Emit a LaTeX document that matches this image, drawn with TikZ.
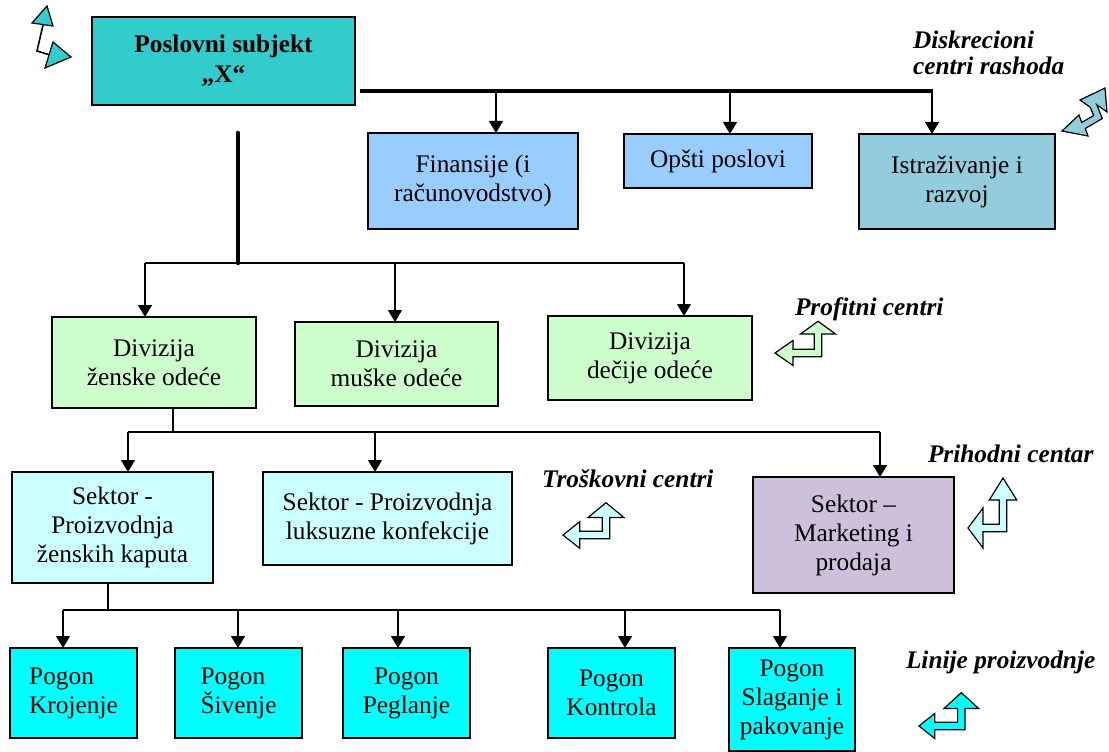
\documentclass[tikz,border=0pt]{standalone}
\usepackage{fontspec}
\setmainfont{Liberation Serif}
\usetikzlibrary{arrows.meta}

\definecolor{cTop}{HTML}{33CCCC}
\definecolor{cFin}{HTML}{99CCFF}
\definecolor{cIst}{HTML}{93CDDD}
\definecolor{cDiv}{HTML}{CCFFCC}
\definecolor{cSek}{HTML}{CCFFFF}
\definecolor{cMkt}{HTML}{CCC0DA}
\definecolor{cPog}{HTML}{00FFFF}

\tikzset{
  box/.style={draw=black, line width=1.4pt, inner sep=0pt, outer sep=0pt,
    align=center, font=\fontsize{19pt}{21.75pt}\selectfont},
  boldbox/.style={box, font=\fontsize{19pt}{22.5pt}\selectfont\bfseries},
  link/.style={line width=1.1pt},
  arr/.style={link, -{Triangle[length=9pt,width=10.5pt]}},
  bus/.style={line width=2.8pt},
  tag/.style={font=\fontsize{19pt}{19.5pt}\selectfont\bfseries\itshape,
    inner sep=0pt, outer sep=0pt, align=left},
  glyph/.style={draw=black, line width=0.9pt, line join=miter},
}

% box given by its corners (x1,y1) (x2,y2) in pixel units
\newcommand\orgbox[7]{%
  \node[#6, minimum width={(#4-#2)*0.75pt}, minimum height={(#5-#3)*0.75pt}]
    (#1) at ({(#2+#4)/2},{(#3+#5)/2}) {#7};}

% left-up double arrow: tip, corner offset, shaft length, left head length/half width,
% upper head length/half width, shaft half thickness, fill
\newcommand\bentarrow[9]{%
  \draw[glyph, fill=#9, shift={(#1)}] (0,0) -- (#4,-#5) -- (#4,-#8)
    -- ({#2-#8},-#8) -- ({#2-#8},-#3) -- ({#2-#7},-#3) -- (#2,{-#3-#6})
    -- ({#2+#7},-#3) -- ({#2+#8},-#3) -- ({#2+#8},#8) -- (#4,#8) -- (#4,#5) -- cycle;}

\begin{document}
\begin{tikzpicture}[x=0.75pt,y=-0.75pt]
\useasboundingbox (0,0) rectangle (1109,752);

% ---- boxes
\orgbox{top}{92}{17}{355}{105}{boldbox, fill=cTop}{Poslovni subjekt\\„X“}
\orgbox{fin}{368}{133}{578}{229}{box, fill=cFin}{Finansije (i\\računovodstvo)}
\orgbox{ops}{624}{134}{812}{188}{box, fill=cFin}{Opšti poslovi}
\orgbox{ist}{859}{134}{1055}{229}{box, fill=cIst}{Istraživanje i\\razvoj}

\orgbox{zen}{52}{317}{256}{408}{box, fill=cDiv}{Divizija\\ženske odeće}
\orgbox{mus}{295}{322}{498}{406}{box, fill=cDiv}{Divizija\\muške odeće}
\orgbox{dec}{548}{316}{752}{400}{box, fill=cDiv}{Divizija\\dečije odeće}

\orgbox{s1}{12}{472}{213}{583}{box, fill=cSek}{Sektor -\\Proizvodnja\\ženskih kaputa}
\orgbox{s2}{263}{472}{512}{565}{box, fill=cSek}{Sektor - Proizvodnja\\luksuzne konfekcije}
\orgbox{s3}{753}{477}{954}{593}{box, fill=cMkt}{Sektor –\\Marketing i\\prodaja}

\orgbox{p1}{10}{648}{137}{738}{box, fill=cPog, align=left}{Pogon\\Krojenje}
\orgbox{p2}{175}{648}{302}{738}{box, fill=cPog, align=left}{Pogon\\Šivenje}
\orgbox{p3}{343}{648}{470}{738}{box, fill=cPog}{Pogon\\Peglanje}
\orgbox{p4}{548}{648}{675}{738}{box, fill=cPog}{Pogon\\Kontrola}
\orgbox{p5}{729}{648}{855}{751}{box, fill=cPog}{Pogon\\Slaganje i\\pakovanje}

% ---- staff services
\coordinate (b0) at (360,91);
\coordinate (t1) at (496,91);
\coordinate (t2) at (730,91);
\coordinate (t3) at (932,91);
\draw[bus] (b0) -- ([xshift=1]t3);
\draw[arr] (t1) -- (t1 |- fin.north);
\draw[arr] (t2) -- (t2 |- ops.north);
\draw[arr] (t3) -- (t3 |- ist.north);

% ---- divisions
\coordinate (v0) at (238,133);
\coordinate (v1) at (238,263);
\coordinate (h1) at (145,263);
\coordinate (h2) at (395,263);
\coordinate (h3) at (684,263);
\draw[bus, line width=3.4pt, line cap=round] (v0) -- (v1);
\draw[link] (h1) -- (h3);
\draw[arr] (h1) -- (h1 |- zen.north);
\draw[arr] (h2) -- (h2 |- mus.north);
\draw[arr] (h3) -- (h3 |- dec.north);

% ---- sectors
\coordinate (j0) at (173,432);
\coordinate (j1) at (128,432);
\coordinate (j2) at (375,432);
\coordinate (j3) at (880,432);
\draw[link] (j0 |- zen.south) -- (j0);
\draw[link] (j1) -- (j3);
\draw[arr] (j1) -- (j1 |- s1.north);
\draw[arr] (j2) -- (j2 |- s2.north);
\draw[arr] (j3) -- (j3 |- s3.north);

% ---- plants
\coordinate (k0) at (108,610);
\coordinate (k1) at (63,610);
\coordinate (k2) at (238,610);
\coordinate (k3) at (398,610);
\coordinate (k4) at (625,610);
\coordinate (k5) at (780,610);
\draw[link] (k0 |- s1.south) -- (k0);
\draw[link] (k1) -- (k5);
\draw[arr] (k1) -- (k1 |- p1.north);
\draw[arr] (k2) -- (k2 |- p2.north);
\draw[arr] (k3) -- (k3 |- p3.north);
\draw[arr] (k4) -- (k4 |- p4.north);
\draw[arr] (k5) -- (k5 |- p5.north);

% ---- responsibility centre labels
\node[tag, anchor=north west] (lDis) at (913,31) {Diskrecioni\\centri rashoda};
\node[tag, anchor=base west] (lPro) at (795,315) {Profitni centri};
\node[tag, anchor=base west] (lTro) at (542,487) {Troškovni centri};
\node[tag, anchor=base west] (lPri) at (928,462) {Prihodni centar};
\node[tag, anchor=base west] (lLin) at (906,668) {Linije proizvodnje};

% ---- pointer glyphs
\bentarrow{775,353}{43}{19}{18}{12.5}{12.7}{17.5}{3.7}{cDiv}
\bentarrow{563,535}{43}{17.6}{16.7}{13.3}{14.7}{17.8}{3.7}{cSek}
\bentarrow{968,528}{35}{28}{15}{20}{22}{13.7}{3.7}{cSek}
\bentarrow{919,726}{42.3}{17.6}{15.7}{12.5}{15.7}{17.2}{3.7}{cPog}

% top right glyph
\draw[glyph, fill=cIst] (1062,131) -- (1079,115) -- (1081.7,122.5) -- (1093.6,115.5)
  -- (1090.3,107.3) -- (1080,100) -- (1105,88) -- (1107,112) -- (1096.7,104.7)
  -- (1102.3,118.5) -- (1085.3,128.5) -- (1088,136) -- cycle;

% top left glyph
\draw[line width=1.2pt] (43,25) -- (37,51) -- (50,55);
\draw[glyph, fill=cTop] (32,23) -- (47,6) -- (53,26) -- cycle;
\draw[glyph, fill=cTop] (53,42) -- (71,57) -- (45,68) -- cycle;
\end{tikzpicture}
\end{document}
